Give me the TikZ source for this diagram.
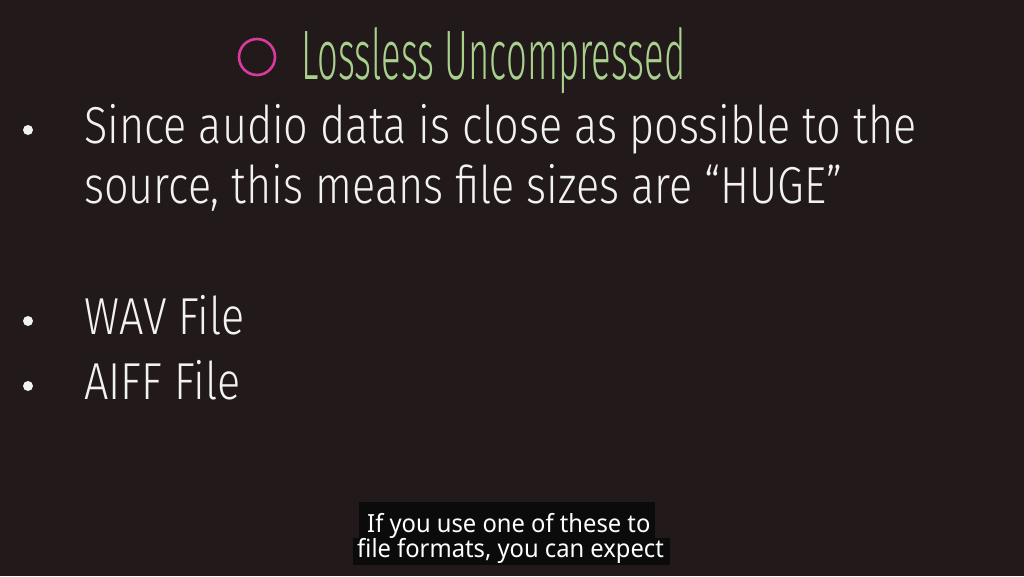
\documentclass[tikz,border=0pt]{standalone}
\usepackage{fontspec}
\setmainfont{Fira Sans}[UprightFont=* Light, FakeStretch=0.83]
\newfontfamily\titlefont{Fira Sans}[UprightFont=* Light, FakeStretch=0.52]
\newfontfamily\capfont{Noto Sans}[FakeStretch=0.95]
\definecolor{bgc}{HTML}{221A1A}
\definecolor{titlegreen}{HTML}{A9D18E}
\definecolor{ringpink}{HTML}{D93A9E}
\definecolor{bodywhite}{HTML}{F2F2F2}
\definecolor{capbg}{HTML}{0B0B0B}
\tikzset{
  body/.style={anchor=base west, inner sep=0pt, text=bodywhite, font=\fontsize{52}{60}\selectfont},
  bulletdot/.style={circle, fill=bodywhite, inner sep=0pt, minimum size=10pt},
  titletext/.style={anchor=base west, inner sep=0pt, text=titlegreen, font=\titlefont\fontsize{70}{80}\selectfont},
  ring/.style={circle, draw=ringpink, line width=2.6pt, inner sep=0pt, minimum size=36pt},
  capbox/.style={fill=capbg, inner sep=0pt, anchor=north west},
  captext/.style={anchor=base west, inner sep=0pt, text=white, font=\capfont\fontsize{25}{30}\selectfont}
}
\begin{document}
\begin{tikzpicture}[x=1pt,y=-1pt]
\fill[bgc] (0,0) rectangle (1024,576);
\useasboundingbox (0,0) rectangle (1024,576);
% title
\node[ring] (ring) at (257,57) {};
\node[titletext] (title) at (301,79) {Lossless Uncompressed};
% bullets
\node[bulletdot] (b1) at (28,130) {};
\node[body] (l1) at (84,143) {Since audio data is close as possible to the};
\node[body] (l2) at (84,203) {source, this means file sizes are “HUGE”};
\node[bulletdot] (b2) at (28,321) {};
\node[body] (l3) at (84,334) {WAV File};
\node[bulletdot] (b3) at (28,386) {};
\node[body] (l4) at (84,399) {AIFF File};
% caption
\node[capbox, minimum width=296pt, minimum height=36pt] (cap1) at (359,502) {};
\node[capbox, minimum width=317pt, minimum height=27pt] (cap2) at (353,538) {};
\node[captext] (c1) at (367,532) {If you use one of these to};
\node[captext] (c2) at (357,557) {file formats, you can expect};
\end{tikzpicture}
\end{document}
